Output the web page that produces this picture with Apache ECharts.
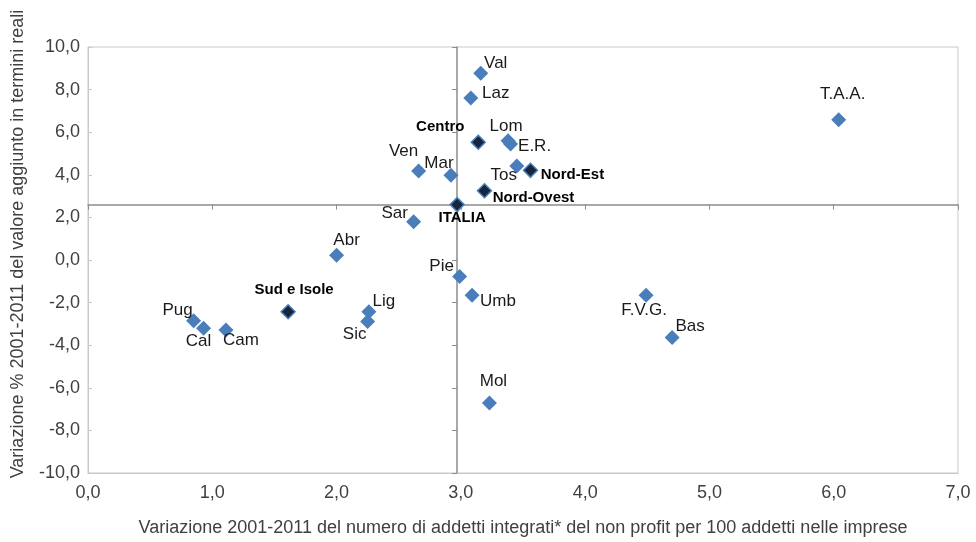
<!DOCTYPE html>
<html><head><meta charset="utf-8">
<script src="https://cdn.jsdelivr.net/npm/echarts@6/dist/echarts.min.js"></script>
<style>html,body{margin:0;padding:0;background:#fff}#c{width:976px;height:542px}</style>
</head><body><div id="c"></div>
<script>
const regionNames = ['Val','Laz','Lom','E.R.','Ven','Mar','Tos','Sar','Abr','Pie','Umb','Mol','F.V.G.','Bas','T.A.A.','Pug','Cal','Cam','Lig','Sic'];
const regionX = [3.16,3.08,3.38,3.40,2.66,2.92,3.45,2.62,2.00,2.99,3.09,3.23,4.49,4.70,6.04,0.85,0.93,1.11,2.26,2.25];
const regionY = [8.77,7.61,5.60,5.45,4.18,3.98,4.41,1.80,0.22,-0.77,-1.65,-6.71,-1.65,-3.64,6.59,-2.85,-3.21,-3.29,-2.43,-2.89];
const areaNames = ['Centro','Nord-Est','Nord-Ovest','ITALIA','Sud e Isole'];
const areaX = [3.14,3.56,3.19,2.97,1.61];
const areaY = [5.53,4.21,3.25,2.60,-2.43];
const xTicks = {min:0, max:7, interval:1};
const yTicks = {min:-10, max:10, interval:2};
const xTitle = 'Variazione 2001-2011 del numero di addetti integrati* del non profit per 100 addetti nelle imprese';
const yTitle = 'Variazione % 2001-2011 del valore aggiunto in termini reali';

// label placement (layout only)
const labelOffsets = {
  'Val':[15,-10],'Laz':[25,-5],'Lom':[-2,-14],'E.R.':[24,2],'Ven':[-15,-20],'Mar':[-12,-12],
  'Tos':[-13,9],'Sar':[-19,-8],'Abr':[10,-15],'Pie':[-18,-10],'Umb':[26,6],'Mol':[4,-22],
  'F.V.G.':[-2,15],'Bas':[18,-11],'T.A.A.':[4,-25],'Pug':[-16,-10],'Cal':[-5,13],'Cam':[15,10],
  'Lig':[15,-10],'Sic':[-13,13],
  'Centro':[-38,-15],'Nord-Est':[42,5],'Nord-Ovest':[49,7],'ITALIA':[5,13],'Sud e Isole':[6,-22]
};

const FONT = '"Liberation Sans",Arial,sans-serif';
const fmt = v => v.toFixed(1).replace('.', ',');

function pts(names, xs, ys){
  return names.map((n,i)=>({name:n, value:[xs[i], ys[i]],
    label:{offset: labelOffsets[n] || [0,0]}}));
}

const chart = echarts.init(document.getElementById('c'), null, {renderer:'canvas'});
const grid = {left:88, right:18, top:47, bottom:66.5, show:true, borderColor:'#c8c8c8', borderWidth:1};

function baseOption(xOff, yOff){
  return {
    animation:false,
    grid: grid,
    xAxis: [{
      type:'value', min:xTicks.min, max:xTicks.max, interval:xTicks.interval,
      axisLine:{show:true, onZero:false, lineStyle:{color:'#c8c8c8', width:1}},
      axisTick:{show:false}, splitLine:{show:false},
      axisLabel:{formatter:fmt, color:'#404040', fontSize:18, fontFamily:FONT, margin:11},
      name:xTitle, nameLocation:'middle', nameGap:46,
      nameTextStyle:{color:'#404040', fontSize:18, fontFamily:FONT}
    },{
      type:'value', min:xTicks.min, max:xTicks.max, interval:xTicks.interval, position:'bottom', offset:xOff,
      axisLine:{show:true, onZero:false, lineStyle:{color:'#8c8c8c', width:1.5}},
      axisTick:{show:true, inside:false, length:5, lineStyle:{color:'#8c8c8c'}},
      axisLabel:{show:false}, splitLine:{show:false}
    }],
    yAxis: [{
      type:'value', min:yTicks.min, max:yTicks.max, interval:yTicks.interval,
      axisLine:{show:true, onZero:false, lineStyle:{color:'#c8c8c8', width:1}},
      axisTick:{show:true, inside:true, length:4, lineStyle:{color:'#c8c8c8'}}, splitLine:{show:false},
      axisLabel:{formatter:fmt, color:'#404040', fontSize:18, fontFamily:FONT, margin:8}
    },{
      type:'value', min:yTicks.min, max:yTicks.max, interval:yTicks.interval, position:'left', offset:yOff,
      axisLine:{show:true, onZero:false, lineStyle:{color:'#8c8c8c', width:1.5}},
      axisTick:{show:true, inside:false, length:5, lineStyle:{color:'#8c8c8c'}},
      axisLabel:{show:false}, splitLine:{show:false}
    }],
    graphic:[{type:'text', x:18, y:244, rotation:Math.PI/2,
      style:{text:yTitle, fill:'#404040', font:'18px '+FONT, textAlign:'center', textVerticalAlign:'middle'}}],
    series: [{
      type:'scatter', xAxisIndex:0, yAxisIndex:0, symbol:'diamond', symbolSize:15,
      itemStyle:{color:'#4a7ebb', opacity:1},
      label:{show:true, position:'inside', formatter:'{b}', color:'#1a1a1a', fontSize:17, fontFamily:FONT,
        align:'center', verticalAlign:'middle'},
      data: pts(regionNames, regionX, regionY), z:3
    },{
      type:'scatter', xAxisIndex:0, yAxisIndex:0, symbol:'diamond', symbolSize:14,
      itemStyle:{color:'#17263d', borderColor:'#4a7ebb', borderWidth:1.5, opacity:1},
      label:{show:true, position:'inside', formatter:'{b}', color:'#000', fontSize:15, fontWeight:'bold', fontFamily:FONT,
        align:'center', verticalAlign:'middle'},
      data: pts(areaNames, areaX, areaY), z:4
    }]
  };
}

chart.setOption(baseOption(0,0));
const it = areaNames.indexOf('ITALIA');
const p = chart.convertToPixel({gridIndex:0}, [areaX[it], areaY[it]]);
const o = chart.convertToPixel({gridIndex:0}, [xTicks.min, yTicks.min]);
chart.setOption(baseOption(-(o[1]-p[1]), -(p[0]-o[0])));
</script></body></html>
